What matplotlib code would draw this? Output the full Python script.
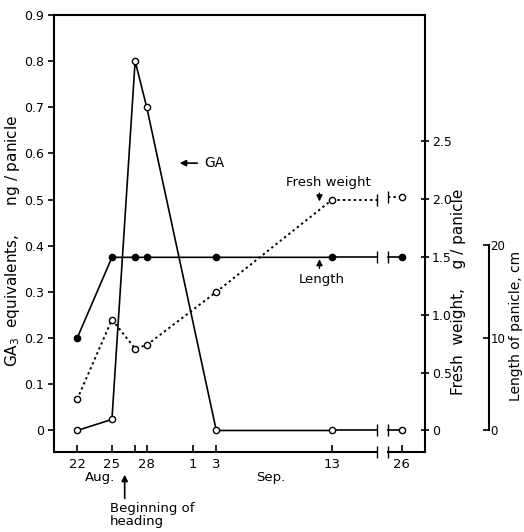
import numpy as np
import matplotlib.pyplot as plt
import matplotlib.transforms as mtransforms

plt.rcParams['font.family'] = ['DejaVu Sans']
plt.rcParams['font.size'] = 9

# day index counted from Aug 22 (Sep 26 sits after the axis break)
days = [0, 3, 5, 6, 12, 22, 28]
ga = [0.0, 0.024, 0.80, 0.70, 0.0, 0.0, 0.0]             # ng / panicle
fresh_weight = [0.27, 0.96, 0.71, 0.74, 1.20, 2.00, 2.02]  # g / panicle
length = [10.0, 18.75, 18.75, 18.75, 18.75, 18.75, 18.75]  # cm

tick_pos = [0, 3, 5, 6, 10, 12, 22, 28]
tick_lab = ['22', '25', '', '28', '1', '3', '13', '26']
brk = (25.9, 26.8)

fw_scale = 4.0    # fresh weight axis: 2.0 g <-> 0.5 ng
len_scale = 50.0  # length axis: 20 cm <-> 0.4 ng
ylo, yhi = -0.047, 0.897

fig = plt.figure(figsize=(5.24, 5.32), dpi=100)
ax = fig.add_axes([0.103, 0.150, 0.708, 0.822])

fw = np.array(fresh_weight) / fw_scale
ln = np.array(length) / len_scale

def broken(y, **kw):
    ax.plot(days[:-1], y[:-1], **kw)
    ax.plot([days[-2], brk[0]], [y[-2], y[-2]], **kw)
    ax.plot([brk[1], days[-1]], [y[-1], y[-1]], **kw)
    ax.plot(brk, [y[-2], y[-1]], ls='none', marker='|', ms=9, mew=1.0, color='black')

broken(np.array(ga), color='black', lw=1.2)
ax.plot(days, ga, ls='none', marker='o', ms=4.5, mfc='white', mec='black', mew=1.0)
broken(fw, color='black', lw=1.4, ls=(0, (1.2, 1.6)))
ax.plot(days, fw, ls='none', marker='o', ms=4.5, mfc='white', mec='black', mew=1.0)
broken(ln, color='black', lw=1.2)
ax.plot(days, ln, ls='none', marker='o', ms=4.5, mfc='black', mec='black')

ax.set_xlim(-2, 30)
ax.set_ylim(ylo, yhi)
ax.set_yticks(np.arange(0, 0.91, 0.1))
ax.set_yticklabels(['0'] + ['%.1f' % v for v in np.arange(0.1, 0.91, 0.1)])
ax.set_xticks(tick_pos)
ax.set_xticklabels(tick_lab, fontsize=9.5)
ax.tick_params(axis='x', direction='in', length=5, width=1.2, pad=4)
ax.tick_params(axis='y', direction='out', length=4, width=1.2, pad=3)
for s in ['left', 'top', 'right']:
    ax.spines[s].set_linewidth(1.5)

# broken x axis
ax.spines['bottom'].set_visible(False)
trans = mtransforms.blended_transform_factory(ax.transData, ax.transAxes)
ax.plot([-2, brk[0]], [0, 0], color='black', lw=1.5, transform=trans, clip_on=False)
ax.plot([brk[1], 30], [0, 0], color='black', lw=1.5, transform=trans, clip_on=False)
ax.plot(brk, [0, 0], ls='none', marker='|', ms=9, mew=1.0, color='black',
        transform=trans, clip_on=False)

ax.set_ylabel('GA$_3$  equivalents,      ng / panicle', fontsize=11)
ax.yaxis.set_label_coords(-0.087, 0.483)

# fresh weight axis
ax2 = ax.twinx()
ax2.set_ylim(ylo * fw_scale, yhi * fw_scale)
ax2.set_yticks([0, 0.5, 1.0, 1.5, 2.0, 2.5])
ax2.set_yticklabels(['0', '0.5', '1.0', '1.5', '2.0', '2.5'])
ax2.tick_params(axis='y', direction='inout', length=6, width=1.2, pad=2)
for s in ['left', 'top', 'bottom', 'right']:
    ax2.spines[s].set_visible(False)
ax2.set_ylabel('Fresh  weight,    g / panicle', fontsize=11)
ax2.yaxis.set_label_coords(1.07, 0.366)

# panicle length axis
ax3 = ax.twinx()
ax3.set_ylim(ylo * len_scale, yhi * len_scale)
ax3.spines['right'].set_position(('outward', 46))
ax3.spines['right'].set_bounds(0, 20)
ax3.spines['right'].set_linewidth(1.5)
for s in ['left', 'top', 'bottom']:
    ax3.spines[s].set_visible(False)
ax3.set_yticks([0, 10, 20])
ax3.tick_params(axis='y', direction='in', length=4, width=1.2, pad=1, labelsize=8.5)
ax3.set_ylabel('Length of panicle, cm', fontsize=10)
ax3.yaxis.set_label_coords(1.227, 0.288)

# annotations
ax.annotate('', xy=(8.6, 0.579), xytext=(10.6, 0.579),
            arrowprops=dict(arrowstyle='-|>', color='black', lw=1.2))
ax.text(11.0, 0.579, 'GA', va='center', ha='left', fontsize=10)
ax.text(21.7, 0.522, 'Fresh weight', ha='center', va='bottom', fontsize=9.5)
ax.annotate('', xy=(20.9, 0.49), xytext=(20.9, 0.52),
            arrowprops=dict(arrowstyle='-|>', color='black', lw=1.0))
ax.annotate('', xy=(20.9, 0.377), xytext=(20.9, 0.345),
            arrowprops=dict(arrowstyle='-|>', color='black', lw=1.0))
ax.text(21.1, 0.34, 'Length', ha='center', va='top', fontsize=9.5)

ax.text(0.125, -0.043, 'Aug.', transform=ax.transAxes, ha='center', va='top', fontsize=9.5)
ax.text(0.585, -0.043, 'Sep.', transform=ax.transAxes, ha='center', va='top', fontsize=9.5)
ax.annotate('', xy=(4.1, -0.045), xytext=(4.1, -0.112), xycoords=trans,
            textcoords=trans, annotation_clip=False,
            arrowprops=dict(arrowstyle='-|>', color='black', lw=1.2))
ax.text(0.15, -0.115, 'Beginning of\nheading', transform=ax.transAxes, ha='left',
        va='top', fontsize=9.5, linespacing=0.95)

fig.savefig('out.png', dpi=100)
